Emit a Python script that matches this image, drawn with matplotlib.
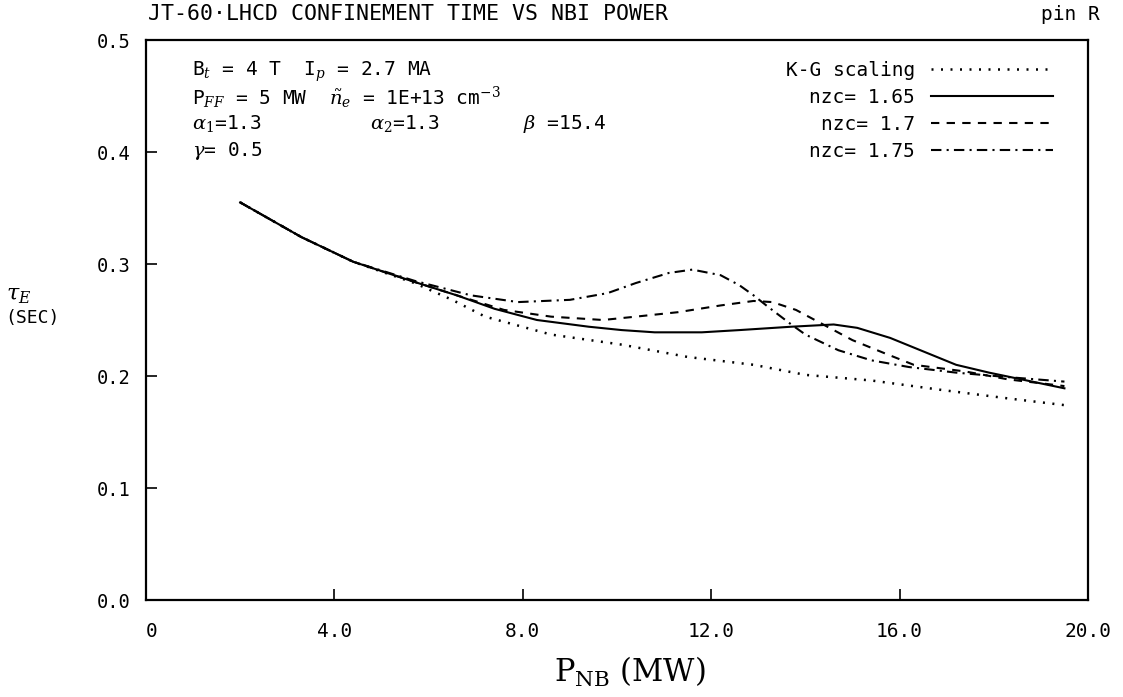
import numpy as np
import matplotlib
matplotlib.use("Agg")
from matplotlib import pyplot as plt

# Valeurs (P_NB en MW, tau_E en s)
x_kg = [2.0, 3.3, 4.4, 5.7, 6.5, 7.2, 8.6, 10.1, 11.5, 12.9, 14.0, 15.4, 16.9, 18.3, 19.5]
y_kg = [0.355, 0.324, 0.302, 0.283, 0.268, 0.253, 0.237, 0.228, 0.217, 0.210, 0.201, 0.196, 0.1875, 0.180, 0.174]

x_165 = [2.0, 3.3, 4.4, 5.7, 6.6, 7.4, 8.3, 9.4, 10.1, 10.8, 11.8, 12.6, 13.7, 14.6, 15.1, 15.8, 16.5, 17.2, 17.9, 18.7, 19.5]
y_165 = [0.355, 0.324, 0.302, 0.284, 0.272, 0.260, 0.250, 0.244, 0.241, 0.239, 0.239, 0.241, 0.244, 0.246, 0.243, 0.234, 0.222, 0.210, 0.203, 0.196, 0.189]

x_170 = [2.0, 3.3, 4.4, 5.7, 6.6, 7.6, 8.6, 9.7, 10.4, 11.3, 12.2, 12.9, 13.3, 13.8, 14.2, 15.0, 15.7, 16.3, 17.4, 18.3, 19.5]
y_170 = [0.355, 0.324, 0.302, 0.284, 0.272, 0.259, 0.253, 0.250, 0.253, 0.257, 0.263, 0.267, 0.266, 0.259, 0.250, 0.232, 0.220, 0.210, 0.204, 0.197, 0.191]

x_175 = [2.0, 3.3, 4.4, 5.7, 6.9, 7.9, 9.0, 9.8, 10.4, 11.1, 11.6, 12.2, 12.6, 12.9, 13.2, 13.7, 14.0, 14.7, 15.4, 16.2, 17.2, 18.3, 19.5]
y_175 = [0.355, 0.324, 0.302, 0.285, 0.272, 0.266, 0.268, 0.274, 0.283, 0.292, 0.295, 0.290, 0.281, 0.272, 0.262, 0.246, 0.237, 0.223, 0.214, 0.208, 0.203, 0.199, 0.195]

x_ticks = [0, 4, 8, 12, 16, 20]
x_ticklabels = ["0", "4.0", "8.0", "12.0", "16.0", "20.0"]
y_ticks = [0.0, 0.1, 0.2, 0.3, 0.4, 0.5]
y_ticklabels = ["0.0", "0.1", "0.2", "0.3", "0.4", "0.5"]

plt.rcParams['font.family'] = ['DejaVu Sans Mono', 'DejaVu Sans']
plt.rcParams['mathtext.fontset'] = 'dejavuserif'

fig = plt.figure(figsize=(11.23, 6.97), dpi=100)
# cadre : x 146..1088 px, y 40..600 px
ax = fig.add_axes([146 / 1123, 97 / 697, 942 / 1123, 560 / 697])

ax.plot(x_kg, y_kg, color='black', lw=1.8, linestyle=(0, (0.8, 3.0)), label="K-G scaling")
ax.plot(x_165, y_165, color='black', lw=1.5, linestyle='-', label="nzc= 1.65")
ax.plot(x_170, y_170, color='black', lw=1.5, linestyle=(0, (4, 3.5)), label="nzc= 1.7")
ax.plot(x_175, y_175, color='black', lw=1.5, linestyle=(0, (5, 2.5, 1, 2.5)), label="nzc= 1.75")

ax.set_xlim(0, 20)
ax.set_ylim(0, 0.5)
ax.set_xticks(x_ticks)
ax.set_xticklabels(x_ticklabels, fontsize=14)
ax.set_yticks(y_ticks)
ax.set_yticklabels(y_ticklabels, fontsize=13.5)
ax.tick_params(direction='in', length=8, width=1.2)
ax.tick_params(axis='x', pad=16)
ax.tick_params(axis='y', pad=11)
ax.get_xticklabels()[0].set_ha('left')
for s in ax.spines.values():
    s.set_linewidth(1.6)

leg = ax.legend(loc='upper right', bbox_to_anchor=(0.963, 0.962), frameon=False,
                markerfirst=False, handlelength=6.3, fontsize=14, labelspacing=0.4,
                handletextpad=0.8, borderpad=0, borderaxespad=0)
for t in leg.get_texts():
    t.set_ha('left')

# Paramètres en haut à gauche
fs = 14
rows = [0.943, 0.896, 0.850, 0.802]
ax.text(0.049, rows[0], r"B$_t$ = 4 T  I$_p$ = 2.7 MA", transform=ax.transAxes, fontsize=fs, va='center')
ax.text(0.049, rows[1], r"P$_{FF}$ = 5 MW  $\tilde{n}_e$ = 1E+13 cm$^{-3}$", transform=ax.transAxes, fontsize=fs, va='center')
ax.text(0.049, rows[2], r"$\alpha_1$=1.3", transform=ax.transAxes, fontsize=fs, va='center')
ax.text(0.238, rows[2], r"$\alpha_2$=1.3", transform=ax.transAxes, fontsize=fs, va='center')
ax.text(0.400, rows[2], r"$\beta$ =15.4", transform=ax.transAxes, fontsize=fs, va='center')
ax.text(0.049, rows[3], r"$\gamma$= 0.5", transform=ax.transAxes, fontsize=fs, va='center')

fig.text(148 / 1123, 1 - 14 / 697, "JT-60·LHCD CONFINEMENT TIME VS NBI POWER", fontsize=15.5, va='center')
fig.text(1100 / 1123, 1 - 14 / 697, "pin R", fontsize=14, va='center', ha='right')

fig.text(6 / 1123, 1 - 296 / 697, r"$\tau_E$", fontsize=16, va='center')
fig.text(5 / 1123, 1 - 318 / 697, "(SEC)", fontsize=13, va='center')

fig.text(630 / 1123, 1 - 672 / 697, r"P$_{\mathrm{NB}}$ (MW)", fontsize=22, ha='center', va='center',
         family='DejaVu Serif')

fig.savefig("out.png", dpi=100)
